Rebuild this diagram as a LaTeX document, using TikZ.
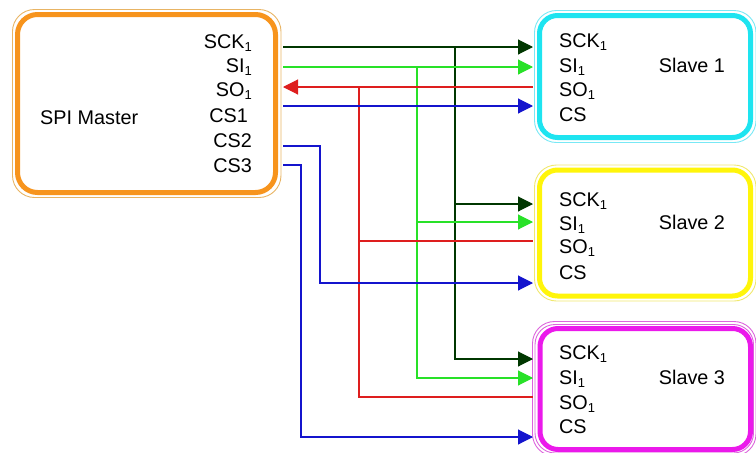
\documentclass[tikz,border=0pt]{standalone}
\usepackage{fontspec}
\setmainfont{Liberation Sans}
\usetikzlibrary{arrows.meta}
\definecolor{cOrange}{RGB}{247,148,29}
\definecolor{cOrangeL}{RGB}{232,180,100}
\definecolor{cCyan}{RGB}{30,228,240}
\definecolor{cCyanL}{RGB}{120,232,245}
\definecolor{cYellow}{RGB}{255,245,10}
\definecolor{cYellowL}{RGB}{240,232,110}
\definecolor{cMag}{RGB}{235,25,235}
\definecolor{cMagL}{RGB}{220,100,220}
\definecolor{wSck}{RGB}{0,55,0}
\definecolor{wSi}{RGB}{40,225,40}
\definecolor{wSo}{RGB}{222,30,30}
\definecolor{wCs}{RGB}{20,20,205}
\newcommand{\myss}[1]{\raisebox{-3pt}{\fontsize{13}{13}\selectfont #1}}
\tikzset{
  thickbox/.style={line width=5pt, rounded corners=18pt},
  thinbox/.style={line width=0.9pt, rounded corners=22pt},
  lbl/.style={inner sep=0pt, text height=14pt, text depth=0pt, font=\fontsize{19.8}{22}\selectfont},
  wire/.style={line width=1.1pt},
  tip/.style={-{Triangle[length=15pt,width=15pt]}},
}
\begin{document}
\begin{tikzpicture}[x=1pt,y=-1pt]
\useasboundingbox (0,0) rectangle (756,453);
% boxes
\draw[thinbox, cOrangeL] (12.5,9.5) rectangle (281,197.5);
\draw[thickbox, cOrange, rounded corners=20pt] (17.5,14.5) rectangle (275.5,192.5);
\draw[thinbox, cCyanL] (534.5,10.5) rectangle (756,142.5);
\draw[thickbox, cCyan] (539.5,15.5) rectangle (750.5,137.5);
\draw[thinbox, cYellowL] (534.5,165) rectangle (756,301);
\draw[thickbox, cYellow] (539.5,170) rectangle (750.5,296);
\draw[thinbox, cMagL] (532.5,321.5) rectangle (756,456);
\draw[thinbox, cMagL, rounded corners=20pt] (535,324.5) rectangle (753.5,453);
\draw[thickbox, cMag] (540,328.5) rectangle (750.5,449.5);
% master labels
\node[lbl, anchor=west] (mname) at (40,117) {SPI Master};
\node[lbl, anchor=east] (msck) at (252,41.5) {SCK\myss{1}};
\node[lbl, anchor=east] (msi) at (252,65) {SI\myss{1}};
\node[lbl, anchor=east] (mso) at (252,89) {SO\myss{1}};
\node[lbl, anchor=east] (mcs1) at (248,115) {CS1};
\node[lbl, anchor=east] (mcs2) at (252,140) {CS2};
\node[lbl, anchor=east] (mcs3) at (252,165) {CS3};
% slave labels
\foreach \n/\ya/\yb/\yc/\yd/\ym in {1/40/65/89/114/65, 2/199/223/246/272/222, 3/352/377/402/426/377}{
  \node[lbl, anchor=west] (s\n sck) at (559,\ya) {SCK\myss{1}};
  \node[lbl, anchor=west] (s\n si) at (559,\yb) {SI\myss{1}};
  \node[lbl, anchor=west] (s\n so) at (559,\yc) {SO\myss{1}};
  \node[lbl, anchor=west] (s\n cs) at (559,\yd) {CS};
  \node[lbl] (s\n name) at (692,\ym) {Slave \n};
}
% ports
\coordinate (p-msck) at (283,47);
\coordinate (p-msi) at (283,67);
\coordinate (p-mso) at (283,87);
\coordinate (p-mcs1) at (283,106);
\coordinate (p-mcs2) at (283,146);
\coordinate (p-mcs3) at (283,165);
\coordinate (p-s1sck) at (533,47);
\coordinate (p-s1si) at (533,67);
\coordinate (p-s1so) at (533,87);
\coordinate (p-s1cs) at (533,106);
\coordinate (p-s2sck) at (533,204);
\coordinate (p-s2si) at (533,222);
\coordinate (p-s2so) at (533,241);
\coordinate (p-s2cs) at (533,283);
\coordinate (p-s3sck) at (533,359);
\coordinate (p-s3si) at (533,378);
\coordinate (p-s3so) at (533,397);
\coordinate (p-s3cs) at (533,437);
% junctions
\coordinate (j-sck0) at (455,47);
\coordinate (j-sck1) at (455,204);
\coordinate (j-si0) at (417,67);
\coordinate (j-si1) at (417,222);
\coordinate (j-so0) at (359,87);
\coordinate (j-so1) at (359,241);
\coordinate (j-cs2) at (320,146);
\coordinate (j-cs3) at (301,165);
% wires
\draw[wire, wSck, tip] (p-msck) -- (p-s1sck);
\draw[wire, wSck, tip] (j-sck0) |- (p-s3sck);
\draw[wire, wSck, tip] (j-sck1) -- (p-s2sck);
\draw[wire, wSi, tip] (p-msi) -- (p-s1si);
\draw[wire, wSi, tip] (j-si0) |- (p-s3si);
\draw[wire, wSi, tip] (j-si1) -- (p-s2si);
\draw[wire, wSo, tip] (p-s1so) -- (p-mso);
\draw[wire, wSo] (j-so0) |- (p-s3so);
\draw[wire, wSo] (j-so1) -- (p-s2so);
\draw[wire, wCs, tip] (p-mcs1) -- (p-s1cs);
\draw[wire, wCs, tip] (p-mcs2) -- (j-cs2) |- (p-s2cs);
\draw[wire, wCs, tip] (p-mcs3) -- (j-cs3) |- (p-s3cs);
\end{tikzpicture}
\end{document}
